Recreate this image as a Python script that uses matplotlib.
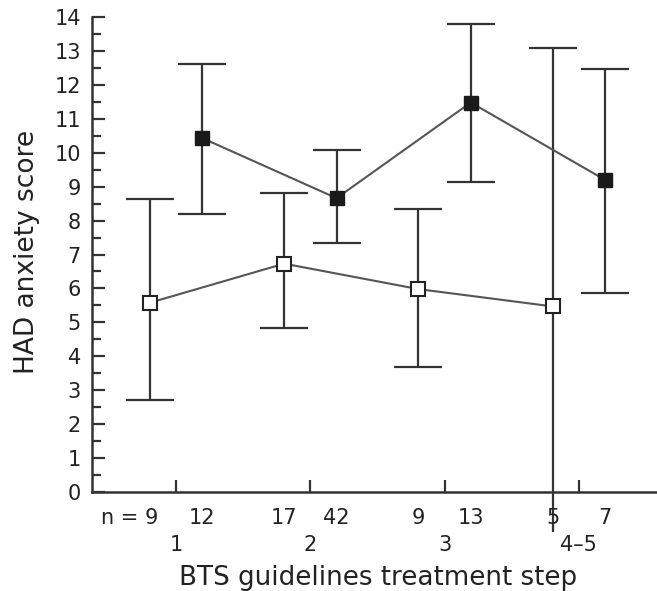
import matplotlib
matplotlib.use("Agg")
import matplotlib.pyplot as plt
import numpy as np

# Data
steps = ["1", "2", "3", "4\u20135"]
step_pos = [1, 2, 3, 4]
open_mean = [5.58, 6.73, 5.98, 5.47]
open_hi = [8.65, 8.80, 8.34, 13.09]
open_lo = [2.70, 4.84, 3.69, -1.17]
open_n = ["n = 9", "17", "9", "5"]
filled_mean = [10.43, 8.66, 11.48, 9.20]
filled_hi = [12.62, 10.09, 13.78, 12.48]
filled_lo = [8.19, 7.35, 9.15, 5.86]
filled_n = ["12", "42", "13", "7"]
yticks = list(range(0, 15))

offset = 0.195
cap = 0.179
txt = "#222222"
ecol = "#333333"

plt.rcParams['font.family'] = ['DejaVu Sans']
fig = plt.figure(figsize=(6.57, 5.91), dpi=100)
ax = fig.add_axes([92/657, 1-492/591, (656-92)/657, (492-17)/591])

x = np.array(step_pos, dtype=float)
xo = x - offset
xf = x + offset

for xs, m, hi, lo in [(xo, open_mean, open_hi, open_lo), (xf, filled_mean, filled_hi, filled_lo)]:
    hi = np.array(hi); lo = np.array(lo)
    ax.vlines(xs, lo, hi, color=ecol, lw=1.6, clip_on=False, zorder=2)
    ax.hlines(hi, xs - cap, xs + cap, color=ecol, lw=1.6, zorder=2)
    mask = lo >= 0
    ax.hlines(lo[mask], xs[mask] - cap, xs[mask] + cap, color=ecol, lw=1.6, zorder=2)

ax.plot(xo, open_mean, color="#555555", lw=1.5, zorder=3)
ax.plot(xf, filled_mean, color="#555555", lw=1.5, zorder=3)
ax.plot(xo, open_mean, 's', ms=10, mfc='white', mec='#222222', mew=1.5, zorder=4, linestyle='none')
ax.plot(xf, filled_mean, 's', ms=10.5, mfc='#1a1a1a', mec='#1a1a1a', mew=1, zorder=4, linestyle='none')

ax.set_xlim(0.373, 4.575)
ax.set_ylim(0, 14)
for s in ['top', 'right']:
    ax.spines[s].set_visible(False)
for s in ['left', 'bottom']:
    ax.spines[s].set_linewidth(1.8)
    ax.spines[s].set_color('#333333')

ax.set_yticks(yticks)
ax.set_yticks(np.arange(0.5, 14, 1.0), minor=True)
ax.tick_params(axis='y', which='major', direction='in', length=9.5, width=1.6, color='#333333',
               labelsize=15, labelcolor=txt, pad=8)
ax.tick_params(axis='y', which='minor', direction='in', length=6.5, width=1.6, color='#333333')
ax.set_xticks(step_pos)
ax.set_xticklabels([])
ax.tick_params(axis='x', which='major', direction='in', length=9, width=1.6, color='#333333')

# n labels
for xi, lab in zip(xo, open_n):
    if lab.startswith("n"):
        ax.annotate(lab, (xi, 0), xycoords=('data', 'axes fraction'), xytext=(8, -26),
                    textcoords='offset pixels', ha='right', va='center', fontsize=15, color=txt)
    else:
        ax.annotate(lab, (xi, 0), xycoords=('data', 'axes fraction'), xytext=(0, -26),
                    textcoords='offset pixels', ha='center', va='center', fontsize=15, color=txt)
for xi, lab in zip(xf, filled_n):
    ax.annotate(lab, (xi, 0), xycoords=('data', 'axes fraction'), xytext=(0, -26),
                textcoords='offset pixels', ha='center', va='center', fontsize=15, color=txt)
for xi, lab in zip(x, steps):
    ax.annotate(lab, (xi, 0), xycoords=('data', 'axes fraction'), xytext=(0, -53),
                textcoords='offset pixels', ha='center', va='center', fontsize=15, color=txt)

fig.text(378/657, 1-578/591, "BTS guidelines treatment step", ha='center', va='center',
         fontsize=18.8, color=txt)
fig.text(27/657, 1-252/591, "HAD anxiety score", ha='center', va='center', rotation=90,
         fontsize=19, color=txt)

fig.savefig("out.png", dpi=100)
